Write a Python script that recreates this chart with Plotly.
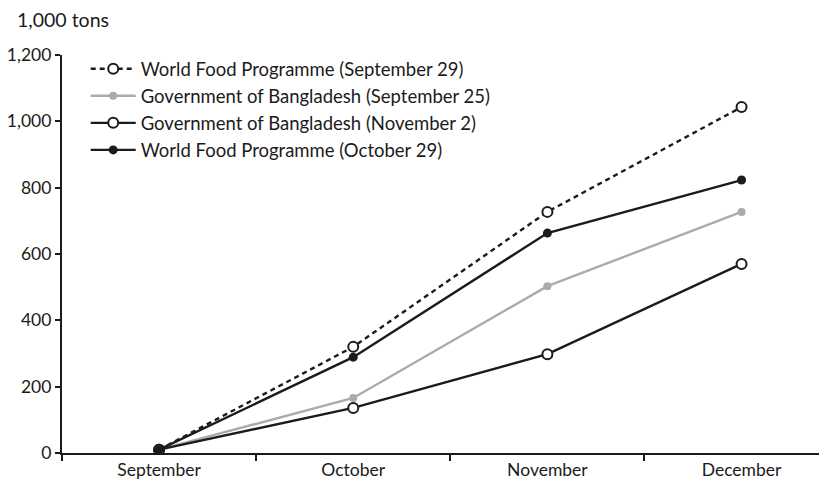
"""
Food aid needs estimates, Bangladesh (1,000 tons), as cumulative line chart.
"""

import plotly.graph_objects as go

months = ["September", "October", "November", "December"]

wfp_sep29 = [10, 320, 727, 1043]
gob_sep25 = [10, 166, 503, 727]
gob_nov2 = [10, 136, 298, 570]
wfp_oct29 = [10, 289, 663, 823]

y_ticks = [0, 200, 400, 600, 800, 1000, 1200]
y_tick_text = ["0", "200", "400", "600", "800", "1,000", "1,200"]

BLACK = "#1b1b1b"
GRAY = "#ababab"
FONT = "Lato"
FSIZE = 17.5

fig = go.Figure()

# order here is legend order
fig.add_trace(go.Scatter(
    x=months, y=wfp_sep29,
    mode="lines+markers",
    name="World Food Programme (September 29)",
    line=dict(color=BLACK, width=2.4, dash="5px,4px"),
    marker=dict(size=10, color="white", line=dict(color=BLACK, width=2))
))

fig.add_trace(go.Scatter(
    x=months, y=gob_sep25,
    mode="lines+markers",
    name="Government of Bangladesh (September 25)",
    line=dict(color=GRAY, width=2.4),
    marker=dict(size=8, color=GRAY)
))

fig.add_trace(go.Scatter(
    x=months, y=gob_nov2,
    mode="lines+markers",
    name="Government of Bangladesh (November 2)",
    line=dict(color=BLACK, width=2.4),
    marker=dict(size=10, color="white", line=dict(color=BLACK, width=2))
))

fig.add_trace(go.Scatter(
    x=months, y=wfp_oct29,
    mode="lines+markers",
    name="World Food Programme (October 29)",
    line=dict(color=BLACK, width=2.4),
    marker=dict(size=9, color=BLACK)
))

# page body has an 8px margin, so the figure is a bit smaller than the window
fig.update_layout(
    width=819,
    height=479,
    margin=dict(l=54, r=0, t=47, b=34),
    plot_bgcolor="white",
    paper_bgcolor="white",
    font=dict(family=FONT, size=FSIZE, color=BLACK),
    showlegend=True,
    legend=dict(
        x=0.031, y=1.012, xanchor="left", yanchor="top",
        bgcolor="rgba(0,0,0,0)",
        traceorder="normal",
        itemwidth=45,
        font=dict(family=FONT, size=18.5, color=BLACK)
    ),
    xaxis=dict(
        type="category",
        range=[-0.5, 3.44],
        tickson="boundaries",
        ticks="outside",
        ticklen=6,
        tickwidth=1.5,
        tickcolor=BLACK,
        showline=True,
        linecolor=BLACK,
        linewidth=2.2,
        showgrid=False,
        zeroline=False,
        tickfont=dict(family=FONT, size=FSIZE, color=BLACK)
    ),
    yaxis=dict(
        range=[0, 1200],
        tickvals=y_ticks,
        ticktext=y_tick_text,
        ticks="outside",
        ticklen=5,
        tickwidth=1.5,
        tickcolor=BLACK,
        showline=True,
        linecolor=BLACK,
        linewidth=2.2,
        showgrid=False,
        zeroline=False,
        tickfont=dict(family=FONT, size=FSIZE, color=BLACK)
    ),
    annotations=[dict(
        text="1,000 tons",
        xref="paper", yref="paper",
        x=-0.061, y=1.09,
        xanchor="left", yanchor="middle",
        showarrow=False,
        font=dict(family=FONT, size=19.5, color=BLACK)
    )]
)

fig.write_html("out.html")
